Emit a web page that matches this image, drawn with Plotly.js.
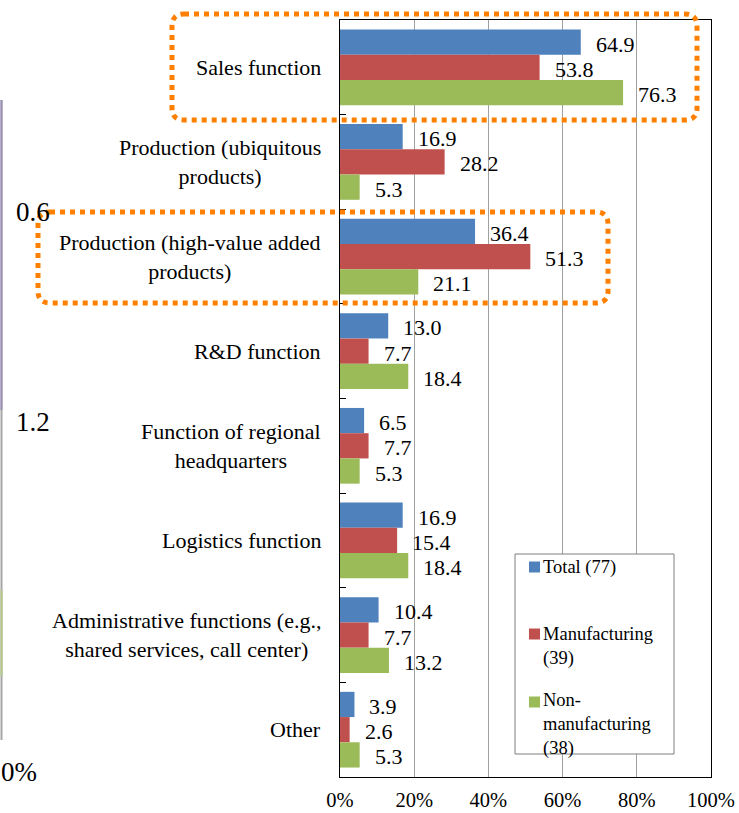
<!DOCTYPE html>
<html><head><meta charset="utf-8">
<script src="https://cdn.plot.ly/plotly-3.0.1.min.js"></script>
<style>html,body{margin:0;padding:0;background:#fff}#chart{width:739px;height:813px}</style>
</head><body><div id="chart"></div>
<script>
// ---- data ----
const categories = [
  "Sales function",
  "Production (ubiquitous<br>products)",
  "Production (high-value added<br>products)",
  "R&D function",
  "Function of regional<br>headquarters",
  "Logistics function",
  "Administrative functions (e.g.,<br>shared services, call center)",
  "Other"
];
const seriesNames = ["Total (77)", "Manufacturing<br>(39)", "Non-<br>manufacturing<br>(38)"];
const total = [64.9, 16.9, 36.4, 13.0, 6.5, 16.9, 10.4, 3.9];
const manufacturing = [53.8, 28.2, 51.3, 7.7, 7.7, 15.4, 7.7, 2.6];
const nonManufacturing = [76.3, 5.3, 21.1, 18.4, 5.3, 18.4, 13.2, 5.3];
const xTickVals = [0, 20, 40, 60, 80, 100];
const xTickText = ["0%", "20%", "40%", "60%", "80%", "100%"];
const sideLabels = ["0.6", "1.2", "0%"]; // cropped fragments of a neighbouring chart

// ---- layout helpers ----
const W = 739, H = 813, M = {l: 340, r: 28, t: 20, b: 36};
const pw = W - M.l - M.r, ph = H - M.t - M.b;
const px = v => (v - M.l) / pw;
const py = v => (H - M.b - v) / ph;
const colors = ["#4F81BD", "#C0504D", "#9BBB59"];
const series = [total, manufacturing, nonManufacturing];
const FONT = "Liberation Serif";
const BARGAP = 0.2;

const traces = series.map((vals, k) => ({
  type: 'bar', orientation: 'h', name: seriesNames[k],
  x: vals, y: categories, marker: {color: colors[k], line: {width: 0}},
  hoverinfo: 'none', showlegend: false
}));

const annotations = [];
categories.forEach((c, i) => annotations.push({
  xref: 'paper', x: 0, yref: 'y', y: i, text: c, showarrow: false,
  xanchor: 'right', yanchor: 'middle', align: 'center', xshift: -17,
  font: {family: FONT, size: 22, color: '#000'}
}));
const bw = (1 - BARGAP) / series.length;
series.forEach((vals, k) => vals.forEach((v, i) => annotations.push({
  xref: 'x', x: v, yref: 'y', y: i + (k - 1) * bw, text: v.toFixed(1), showarrow: false,
  xanchor: 'left', yanchor: 'middle', xshift: 13, yshift: -2,
  font: {family: FONT, size: 22, color: '#000'}
})));

// legend (manual)
const shapes = [];
shapes.push({type: 'rect', xref: 'paper', yref: 'paper', x0: px(515), x1: px(674), y0: py(554), y1: py(754),
  line: {color: '#7f7f7f', width: 1}, fillcolor: '#fff', layer: 'above'});
const legRows = [567, 646, 724];
const legSq = [567, 634, 702];
seriesNames.forEach((n, k) => {
  shapes.push({type: 'rect', xref: 'paper', yref: 'paper', x0: px(529), x1: px(540),
    y0: py(legSq[k] - 5.5), y1: py(legSq[k] + 5.5), line: {width: 0}, fillcolor: colors[k], layer: 'above'});
  annotations.push({xref: 'paper', yref: 'paper', x: px(541), y: py(legRows[k]), text: n, showarrow: false,
    xanchor: 'left', yanchor: 'middle', align: 'left', font: {family: FONT, size: 18.5, color: '#000'}});
});

// orange dotted rounded frames
function rrect(x0, y0, x1, y1, r) {
  const P = (x, y) => px(x) + ',' + py(y);
  return 'M' + P(x0 + r, y0) + ' L' + P(x1 - r, y0) + ' Q' + P(x1, y0) + ' ' + P(x1, y0 + r) +
    ' L' + P(x1, y1 - r) + ' Q' + P(x1, y1) + ' ' + P(x1 - r, y1) +
    ' L' + P(x0 + r, y1) + ' Q' + P(x0, y1) + ' ' + P(x0, y1 - r) +
    ' L' + P(x0, y0 + r) + ' Q' + P(x0, y0) + ' ' + P(x0 + r, y0) + ' Z';
}
const frames = [[172, 14, 697, 120], [38, 212, 608, 303]];
frames.forEach(f => shapes.push({type: 'path', xref: 'paper', yref: 'paper', path: rrect(f[0], f[1], f[2], f[3], 12),
  line: {color: '#FF8000', width: 5, dash: '5px,5px'}, layer: 'above'}));

// cropped neighbour chart fragments on the left edge
shapes.push({type: 'line', xref: 'paper', yref: 'paper', x0: px(1.5), x1: px(1.5), y0: py(100), y1: py(740), line: {color: '#a6a6a6', width: 2}});
shapes.push({type: 'line', xref: 'paper', yref: 'paper', x0: px(1.5), x1: px(1.5), y0: py(100), y1: py(410), line: {color: '#9a8fb5', width: 2}});
shapes.push({type: 'line', xref: 'paper', yref: 'paper', x0: px(1.5), x1: px(1.5), y0: py(590), y1: py(676), line: {color: '#b5c98a', width: 2}});
annotations.push({xref: 'paper', yref: 'paper', x: px(14), y: py(212), text: sideLabels[0], showarrow: false, xanchor: 'left', yanchor: 'middle', font: {family: FONT, size: 27, color: '#000'}});
annotations.push({xref: 'paper', yref: 'paper', x: px(14), y: py(422), text: sideLabels[1], showarrow: false, xanchor: 'left', yanchor: 'middle', font: {family: FONT, size: 27, color: '#000'}});
annotations.push({xref: 'paper', yref: 'paper', x: px(-1), y: py(772), text: sideLabels[2], showarrow: false, xanchor: 'left', yanchor: 'middle', font: {family: FONT, size: 27, color: '#000'}});

const layout = {
  width: W, height: H, margin: M, paper_bgcolor: '#fff', plot_bgcolor: '#fff',
  barmode: 'group', bargap: BARGAP, bargroupgap: 0, showlegend: false,
  font: {family: FONT, color: '#000'},
  xaxis: {range: [0, 100], tickvals: xTickVals, ticktext: xTickText, showgrid: true, gridcolor: '#a0a0a0', gridwidth: 1,
    zeroline: false, showline: true, linecolor: '#000', linewidth: 1, mirror: true,
    ticks: 'outside', ticklen: 4, tickcolor: 'rgba(0,0,0,0)', tickfont: {family: FONT, size: 20.5, color: '#000'}, fixedrange: true},
  yaxis: {type: 'category', autorange: 'reversed', showgrid: false, zeroline: false, showline: true, linecolor: '#000', linewidth: 1,
    mirror: true, ticks: 'inside', tickson: 'boundaries', ticklen: 6, tickcolor: '#000', showticklabels: false, fixedrange: true},
  annotations: annotations, shapes: shapes
};
Plotly.newPlot('chart', traces, layout, {displayModeBar: false, staticPlot: true});
</script></body></html>
